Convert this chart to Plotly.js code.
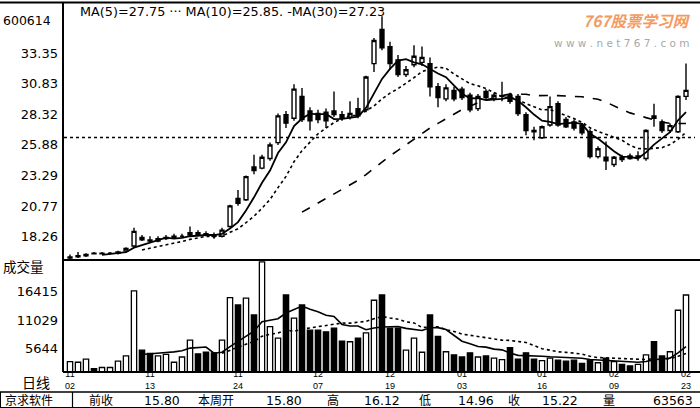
<!DOCTYPE html>
<html>
<head>
<meta charset="utf-8">
<script src="https://cdn.plot.ly/plotly-3.0.1.min.js"></script>
<style>html,body{margin:0;padding:0;background:#fff;}#chart{width:700px;height:408px;}</style>
</head>
<body>
<div id="chart"></div>
<script>
// ---- data ----
const openP  = [16.5,16.6,16.7,16.9,16.85,16.9,16.9,17.1,17.5,18.2,18.0,17.9,18.1,18.2,18.3,18.4,18.6,18.5,18.4,18.3,
                19.1,21.4,21.3,24.0,23.9,24.7,26.0,28.3,28.0,29.8,28.6,28.4,28.5,28.6,28.3,28.1,28.8,28.7,32.5,35.3,
                33.9,32.8,31.6,32.4,32.6,32.5,30.6,29.6,30.3,30.4,29.9,28.8,30.2,29.6,29.8,29.9,29.8,28.3,27.0,26.4,
                27.45,29.2,27.9,27.7,27.45,26.9,24.85,24.8,24.2,24.8,24.9,24.8,24.7,28.2,27.7,27.0,26.9,29.8];
const highP  = [16.8,17.0,16.9,17.0,17.0,17.0,17.1,17.4,19.0,18.4,18.3,18.3,18.4,18.5,18.5,19.1,18.8,18.7,18.6,19.0,
                20.9,22.1,23.3,25.0,25.0,26.0,28.4,28.6,30.8,30.5,28.9,28.7,28.8,30.2,28.6,29.4,29.7,31.5,34.6,36.4,
                34.3,33.2,32.3,34.0,33.9,33.0,30.9,30.8,30.6,30.6,30.1,30.0,30.4,30.1,31.0,30.1,30.0,28.5,27.3,27.4,
                29.8,29.4,28.1,27.9,27.6,27.1,25.7,26.1,24.9,25.0,25.1,25.3,27.1,29.2,27.9,27.6,29.9,32.5];
const lowP   = [16.4,16.5,16.6,16.8,16.8,16.8,16.8,17.0,17.4,17.9,17.8,17.8,18.0,18.1,18.2,18.3,18.3,18.3,18.1,18.2,
                19.0,20.8,21.2,23.4,23.8,24.5,25.8,27.2,27.8,27.7,27.0,27.6,27.2,28.1,27.8,27.9,28.0,28.5,31.8,33.6,
                32.0,31.4,31.4,32.2,32.3,29.8,28.9,29.4,29.4,29.5,28.5,28.6,29.5,29.4,29.4,29.2,28.2,26.6,26.2,26.3,
                27.3,27.3,27.2,27.0,26.6,24.7,24.7,23.75,24.0,24.4,24.6,24.5,24.5,27.3,26.8,26.8,26.8,29.5];
const closeP = [16.6,16.7,16.8,16.85,16.9,16.9,17.0,17.3,18.7,18.0,17.9,18.1,18.2,18.3,18.3,18.6,18.4,18.4,18.3,18.8,
                20.8,21.0,23.2,23.7,24.8,25.8,28.2,27.6,30.4,27.9,27.8,27.9,27.8,28.3,28.0,28.4,28.2,31.4,34.4,33.8,
                32.5,31.6,32.0,33.1,33.0,30.6,29.7,30.5,29.6,29.7,28.7,29.8,29.7,29.9,29.85,29.4,28.4,27.0,26.9,27.3,
                28.96,27.45,27.3,27.2,26.8,24.85,25.5,24.5,24.8,24.6,24.7,24.9,27.0,28.0,27.0,27.4,29.8,30.3];
const volume = [3100,3000,3600,1800,2000,2000,3200,4200,16600,5300,4700,4200,4500,3000,4000,7200,4600,4900,4800,7200,
                15300,13900,15200,12000,22100,9800,7600,15800,11400,13900,9100,9100,8800,9500,7000,6900,7600,8600,14800,15800,
                9500,9500,5300,7600,4900,12000,7900,5000,4400,4000,4800,4000,4200,3800,3500,5800,3600,4800,3600,3300,
                3800,3400,3200,3400,2800,3400,2900,3800,3100,2600,2300,2600,4400,6900,4200,5000,12900,15800];
const refLevel = 26.42;
const priceTicks = [33.35, 30.83, 28.32, 25.88, 23.29, 20.77, 18.26];
const volTicks = [16415, 11029, 5644];
const dateTickIdx = [0, 10, 21, 31, 40, 49, 59, 68, 77];
const dateLabels = ['11/02','11/13','11/24','12/07','12/19','01/03','01/16','02/09','02/23'];
const legendText = 'MA(5)=27.75 ··· MA(10)=25.85. -MA(30)=27.23';
const infoItems = [['京求软件',4],['前收',88],['15.80',143],['本周开',197],['15.80',265],['高',326],['16.12',363],
                   ['低',418],['14.96',457],['收',507],['15.22',541],['量',602],['63563',652]];

// ---- helpers ----
function movingAverage(values, n) {
  return values.map((v, i) => i < n - 1 ? null : values.slice(i - n + 1, i + 1).reduce((a, b) => a + b, 0) / n);
}
const idx = closeP.map((_, i) => i);
const PX = x => (x - 64) / 631;
const PY = y => (372 - y) / 367;
const FONT = 'DejaVu Sans, Verdana, sans-serif';
const CJK = 'Noto Sans CJK SC, sans-serif';
const NARROW = 'Liberation Sans, Arial, sans-serif';

const traces = [
  {type:'candlestick', x: idx, open: openP, high: highP, low: lowP, close: closeP,
   xaxis:'x', yaxis:'y', whiskerwidth: 0,
   increasing:{line:{color:'#000', width:1.4}, fillcolor:'#fff'},
   decreasing:{line:{color:'#000', width:1.4}, fillcolor:'#000'},
   showlegend:false, hoverinfo:'skip'},
  {type:'scatter', mode:'lines', x: idx, y: movingAverage(closeP, 5), xaxis:'x', yaxis:'y',
   line:{color:'#000', width:1.8}, showlegend:false, hoverinfo:'skip'},
  {type:'scatter', mode:'lines', x: idx, y: movingAverage(closeP, 10), xaxis:'x', yaxis:'y',
   line:{color:'#000', width:1.6, dash:'dot'}, showlegend:false, hoverinfo:'skip'},
  {type:'scatter', mode:'lines', x: idx, y: movingAverage(closeP, 30), xaxis:'x', yaxis:'y',
   line:{color:'#000', width:1.6, dash:'dash'}, showlegend:false, hoverinfo:'skip'},
  {type:'bar', x: idx, y: volume, xaxis:'x', yaxis:'y2', width: 0.66,
   marker:{color: closeP.map((c, i) => c >= openP[i] ? '#fff' : '#000'), line:{color:'#000', width:1.3}},
   showlegend:false, hoverinfo:'skip'},
  {type:'scatter', mode:'lines', x: idx, y: movingAverage(volume, 10), xaxis:'x', yaxis:'y2',
   line:{color:'#000', width:1.6}, showlegend:false, hoverinfo:'skip'},
  {type:'scatter', mode:'lines', x: idx, y: movingAverage(volume, 20), xaxis:'x', yaxis:'y2',
   line:{color:'#000', width:1.6, dash:'dot'}, showlegend:false, hoverinfo:'skip'}
];

const line = (x0, y0, x1, y1, w) => ({type:'line', xref:'paper', yref:'paper',
  x0: PX(x0), y0: PY(y0), x1: PX(x1), y1: PY(y1), line:{color:'#000', width:w}, layer:'above'});

const shapes = [
  line(0, 2.5, 700, 2.5, 2),
  line(63, 2.5, 63, 372, 2),
  line(63, 260, 700, 260, 2),
  line(63, 372, 700, 372, 2),
  line(0, 392, 700, 392, 1.5),
  line(0, 407.5, 700, 407.5, 1),
  line(0.5, 392, 0.5, 408, 1),
  line(72.5, 392, 72.5, 408, 1.2),
  {type:'line', xref:'paper', yref:'y', x0: 0, x1: 1, y0: refLevel, y1: refLevel,
   line:{color:'#000', width:1.5, dash:'dot'}, layer:'below'}
];

const ann = (text, x, y, size, family, extra) => Object.assign({
  text, xref:'paper', yref:'paper', x: PX(x), y: PY(y), xanchor:'left', yanchor:'middle',
  showarrow:false, borderpad:0, font:{size, family, color:'#000'}}, extra || {});

const annotations = [
  ann(legendText, 79, 11, 12.8, FONT),
  ann('600614', 2, 21, 12.5, FONT),
  ann('成交量', 2, 266, 13.5, CJK),
  ann('日线', 21, 382, 14, CJK),
  ann('<b><i>767股票学习网</i></b>', 582, 20, 15.5, CJK, {font:{size:15.5, family:CJK, color:'#f39a62'}}),
  ann('w w w . n e t 7 6 7 . c o m', 553, 43, 10.5, FONT, {font:{size:10.5, family:FONT, color:'#a8a8a8'}})
];
// date labels (month over day) placed on the shared x scale
dateTickIdx.forEach((xi, k) => {
  const [m, d] = dateLabels[k].split('/');
  annotations.push({text: m + '<br>' + d, xref:'x', yref:'paper', x: xi, y: PY(380), xanchor:'center',
    yanchor:'middle', showarrow:false, borderpad:0, font:{size:9, family:NARROW, color:'#000'}});
});
infoItems.forEach(([t, x]) => {
  const isNum = /^[0-9.]+$/.test(t);
  annotations.push(isNum ? ann(t, x, 400.3, 12.5, FONT) : ann(t, x, 399.4, 12, CJK));
});

const layout = {
  width: 700, height: 408,
  margin: {l: 64, r: 5, t: 5, b: 36, pad: 0},
  paper_bgcolor: '#fff', plot_bgcolor: '#fff',
  showlegend: false,
  xaxis: {domain:[0,1], range:[-0.75, 78.125], anchor:'y2', showgrid:false, zeroline:false,
          showline:false, ticks:'', showticklabels:false,
          rangeslider:{visible:false}, fixedrange:true},
  yaxis: {domain:[0.305, 1], range:[16.34, 37.32], showgrid:false, zeroline:false, showline:false,
          ticks:'', tickvals: priceTicks, ticktext: priceTicks.map(v => v.toFixed(2)),
          tickfont:{size:13, family:FONT, color:'#000'}, ticklabelstandoff: 5},
  yaxis2: {domain:[0, 0.305], range:[1140, 22455], showgrid:false, zeroline:false, showline:false,
           ticks:'', tickvals: volTicks, ticktext: volTicks.map(String),
           tickfont:{size:13, family:FONT, color:'#000'}, ticklabelstandoff: 5},
  bargap: 0.3,
  shapes, annotations
};

Plotly.newPlot('chart', traces, layout, {staticPlot:true, displayModeBar:false});
</script>
</body>
</html>
